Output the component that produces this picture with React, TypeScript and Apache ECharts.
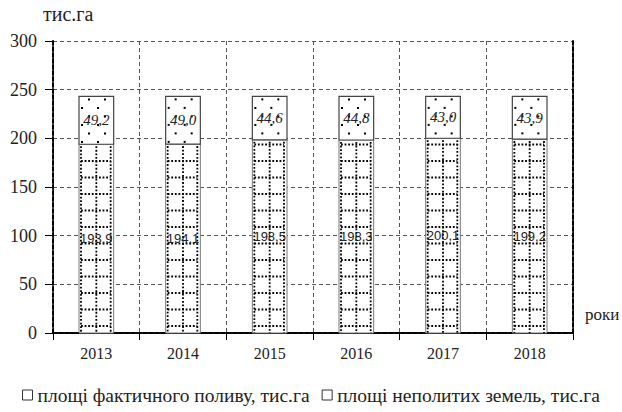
import React, { useEffect, useRef } from "react";
import * as echarts from "echarts";

const categories = ["2013", "2014", "2015", "2016", "2017", "2018"];
const irrigated = [193.9, 194.1, 198.5, 198.3, 200.1, 199.2];
const unwatered = [49.2, 49.0, 44.6, 44.8, 43.0, 43.9];
const yTicks = { min: 0, max: 300, interval: 50 };
const seriesNames = ["площі фактичного поливу, тис.га", "площі неполитих земель, тис.га"];
const yName = "тис.га";
const xName = "роки";

const SERIF = "Liberation Serif";
const SANS = "Liberation Sans";
const fmt = (v: number) => v.toFixed(1).replace(".", ",");

const dotted = { stroke: "#000", lineWidth: 1.8, lineDash: [1.8, 1.8] };

function renderBottom(params: any, api: any) {
  const idx = api.value(0);
  const v = api.value(1);
  const [cx, yb] = api.coord([idx, 0]);
  const yt = api.coord([idx, v])[1];
  const bw = api.size([1, 0])[0] * 0.4;
  const x0 = cx - bw / 2;
  const x1 = cx + bw / 2;
  const children: any[] = [
    {
      type: "rect",
      shape: { x: x0, y: yt, width: bw, height: yb - yt },
      style: { fill: "#fff", stroke: "#777", lineWidth: 1 },
    },
  ];
  [x0 + 2, (x0 + x1) / 2, x1 - 3].forEach((lx) => {
    children.push({ type: "line", shape: { x1: lx, y1: yt + 2, x2: lx, y2: yb }, style: dotted });
  });
  for (let y = yb - 7; y > yt + 4; y -= 16.5) {
    children.push({ type: "line", shape: { x1: x0 + 2, y1: y, x2: x1 - 3, y2: y }, style: dotted });
  }
  children.push({
    type: "text",
    x: (x0 + x1) / 2,
    y: api.coord([idx, v / 2])[1],
    style: { text: fmt(v), fontSize: 13, fontFamily: SANS, fill: "#222", align: "center", verticalAlign: "middle" },
  });
  return { type: "group", children };
}

function renderTop(params: any, api: any) {
  const idx = api.value(0);
  const base = api.value(1);
  const v = api.value(2);
  const [cx, yb] = api.coord([idx, base]);
  const yt = api.coord([idx, base + v])[1];
  const bw = api.size([1, 0])[0] * 0.4;
  const x0 = cx - bw / 2;
  const x1 = cx + bw / 2;
  const children: any[] = [
    {
      type: "rect",
      shape: { x: x0, y: yt, width: bw, height: yb - yt },
      style: { fill: "#fff", stroke: "#444", lineWidth: 1.2 },
    },
  ];
  let row = 0;
  for (let y = yt + 3; y < yb - 2; y += 8.5) {
    const off = row % 2 === 0 ? 10 : 3;
    for (let x = x0 + off; x < x1 - 2; x += 16) {
      children.push({ type: "rect", shape: { x: x - 1, y: y - 1, width: 2, height: 2 }, style: { fill: "#000" } });
    }
    row++;
  }
  children.push({
    type: "text",
    x: (x0 + x1) / 2,
    y: (yt + yb) / 2,
    style: { text: fmt(v), fontSize: 15, fontStyle: "italic", fontFamily: SERIF, fill: "#222", align: "center", verticalAlign: "middle" },
  });
  return { type: "group", children };
}

export default function App() {
  const ref = useRef<HTMLDivElement>(null);
  useEffect(() => {
    if (!ref.current) return;
    document.body.style.margin = "0";
    const chart = echarts.init(ref.current, undefined, { renderer: "svg" });
    const borderLine = { color: "#000", width: 2, type: [4, 2] as any };
    const gridLine = { color: "#555", width: 1, type: [4, 3] as any };
    chart.setOption({
      animation: false,
      backgroundColor: "#fff",
      textStyle: { fontFamily: SERIF },
      grid: { left: 53, right: 49, top: 41, bottom: 79 },
      legend: {
        bottom: 2,
        left: "center",
        itemWidth: 10,
        itemHeight: 10,
        itemGap: 12,
        textStyle: { fontFamily: SERIF, fontSize: 19.5, color: "#222" },
        data: seriesNames.map((n) => ({
          name: n,
          icon: "rect",
          itemStyle: { color: "#fff", borderColor: "#333", borderWidth: 1 },
        })),
      },
      graphic: [
        { type: "text", left: 43, top: 4, style: { text: yName, fontSize: 20, fontFamily: SERIF, fill: "#222" } },
        { type: "text", left: 585, top: 306, style: { text: xName, fontSize: 17, fontFamily: SERIF, fill: "#222" } },
      ],
      xAxis: [
        {
          type: "category",
          data: categories,
          position: "bottom",
          axisLine: { show: true, lineStyle: borderLine },
          axisTick: { show: true, length: 7, lineStyle: { color: "#000" } },
          axisLabel: { fontFamily: SERIF, fontSize: 16, color: "#222", margin: 12 },
          splitLine: { show: true, lineStyle: gridLine },
        },
        {
          type: "category",
          data: categories,
          position: "top",
          axisLine: { show: true, lineStyle: borderLine },
          axisTick: { show: false },
          axisLabel: { show: false },
          splitLine: { show: false },
        },
      ],
      yAxis: [
        {
          type: "value",
          min: yTicks.min,
          max: yTicks.max,
          interval: yTicks.interval,
          axisLine: { show: true, lineStyle: borderLine },
          axisTick: { show: true, length: 8, lineStyle: { color: "#000" } },
          axisLabel: { fontFamily: SERIF, fontSize: 18, color: "#222", margin: 16 },
          splitLine: { show: true, lineStyle: gridLine },
        },
        {
          type: "value",
          position: "right",
          min: yTicks.min,
          max: yTicks.max,
          interval: yTicks.interval,
          axisLine: { show: true, lineStyle: borderLine },
          axisTick: { show: false },
          axisLabel: { show: false },
          splitLine: { show: false },
        },
      ],
      series: [
        {
          name: seriesNames[0],
          type: "custom",
          renderItem: renderBottom,
          itemStyle: { color: "#fff", borderColor: "#333" },
          data: irrigated.map((v, i) => [i, v]),
          clip: false,
        },
        {
          name: seriesNames[1],
          type: "custom",
          renderItem: renderTop,
          itemStyle: { color: "#fff", borderColor: "#333" },
          data: unwatered.map((v, i) => [i, irrigated[i], v]),
          clip: false,
        },
      ],
    });
    return () => chart.dispose();
  }, []);
  return <div ref={ref} style={{ width: 622, height: 412 }} />;
}
